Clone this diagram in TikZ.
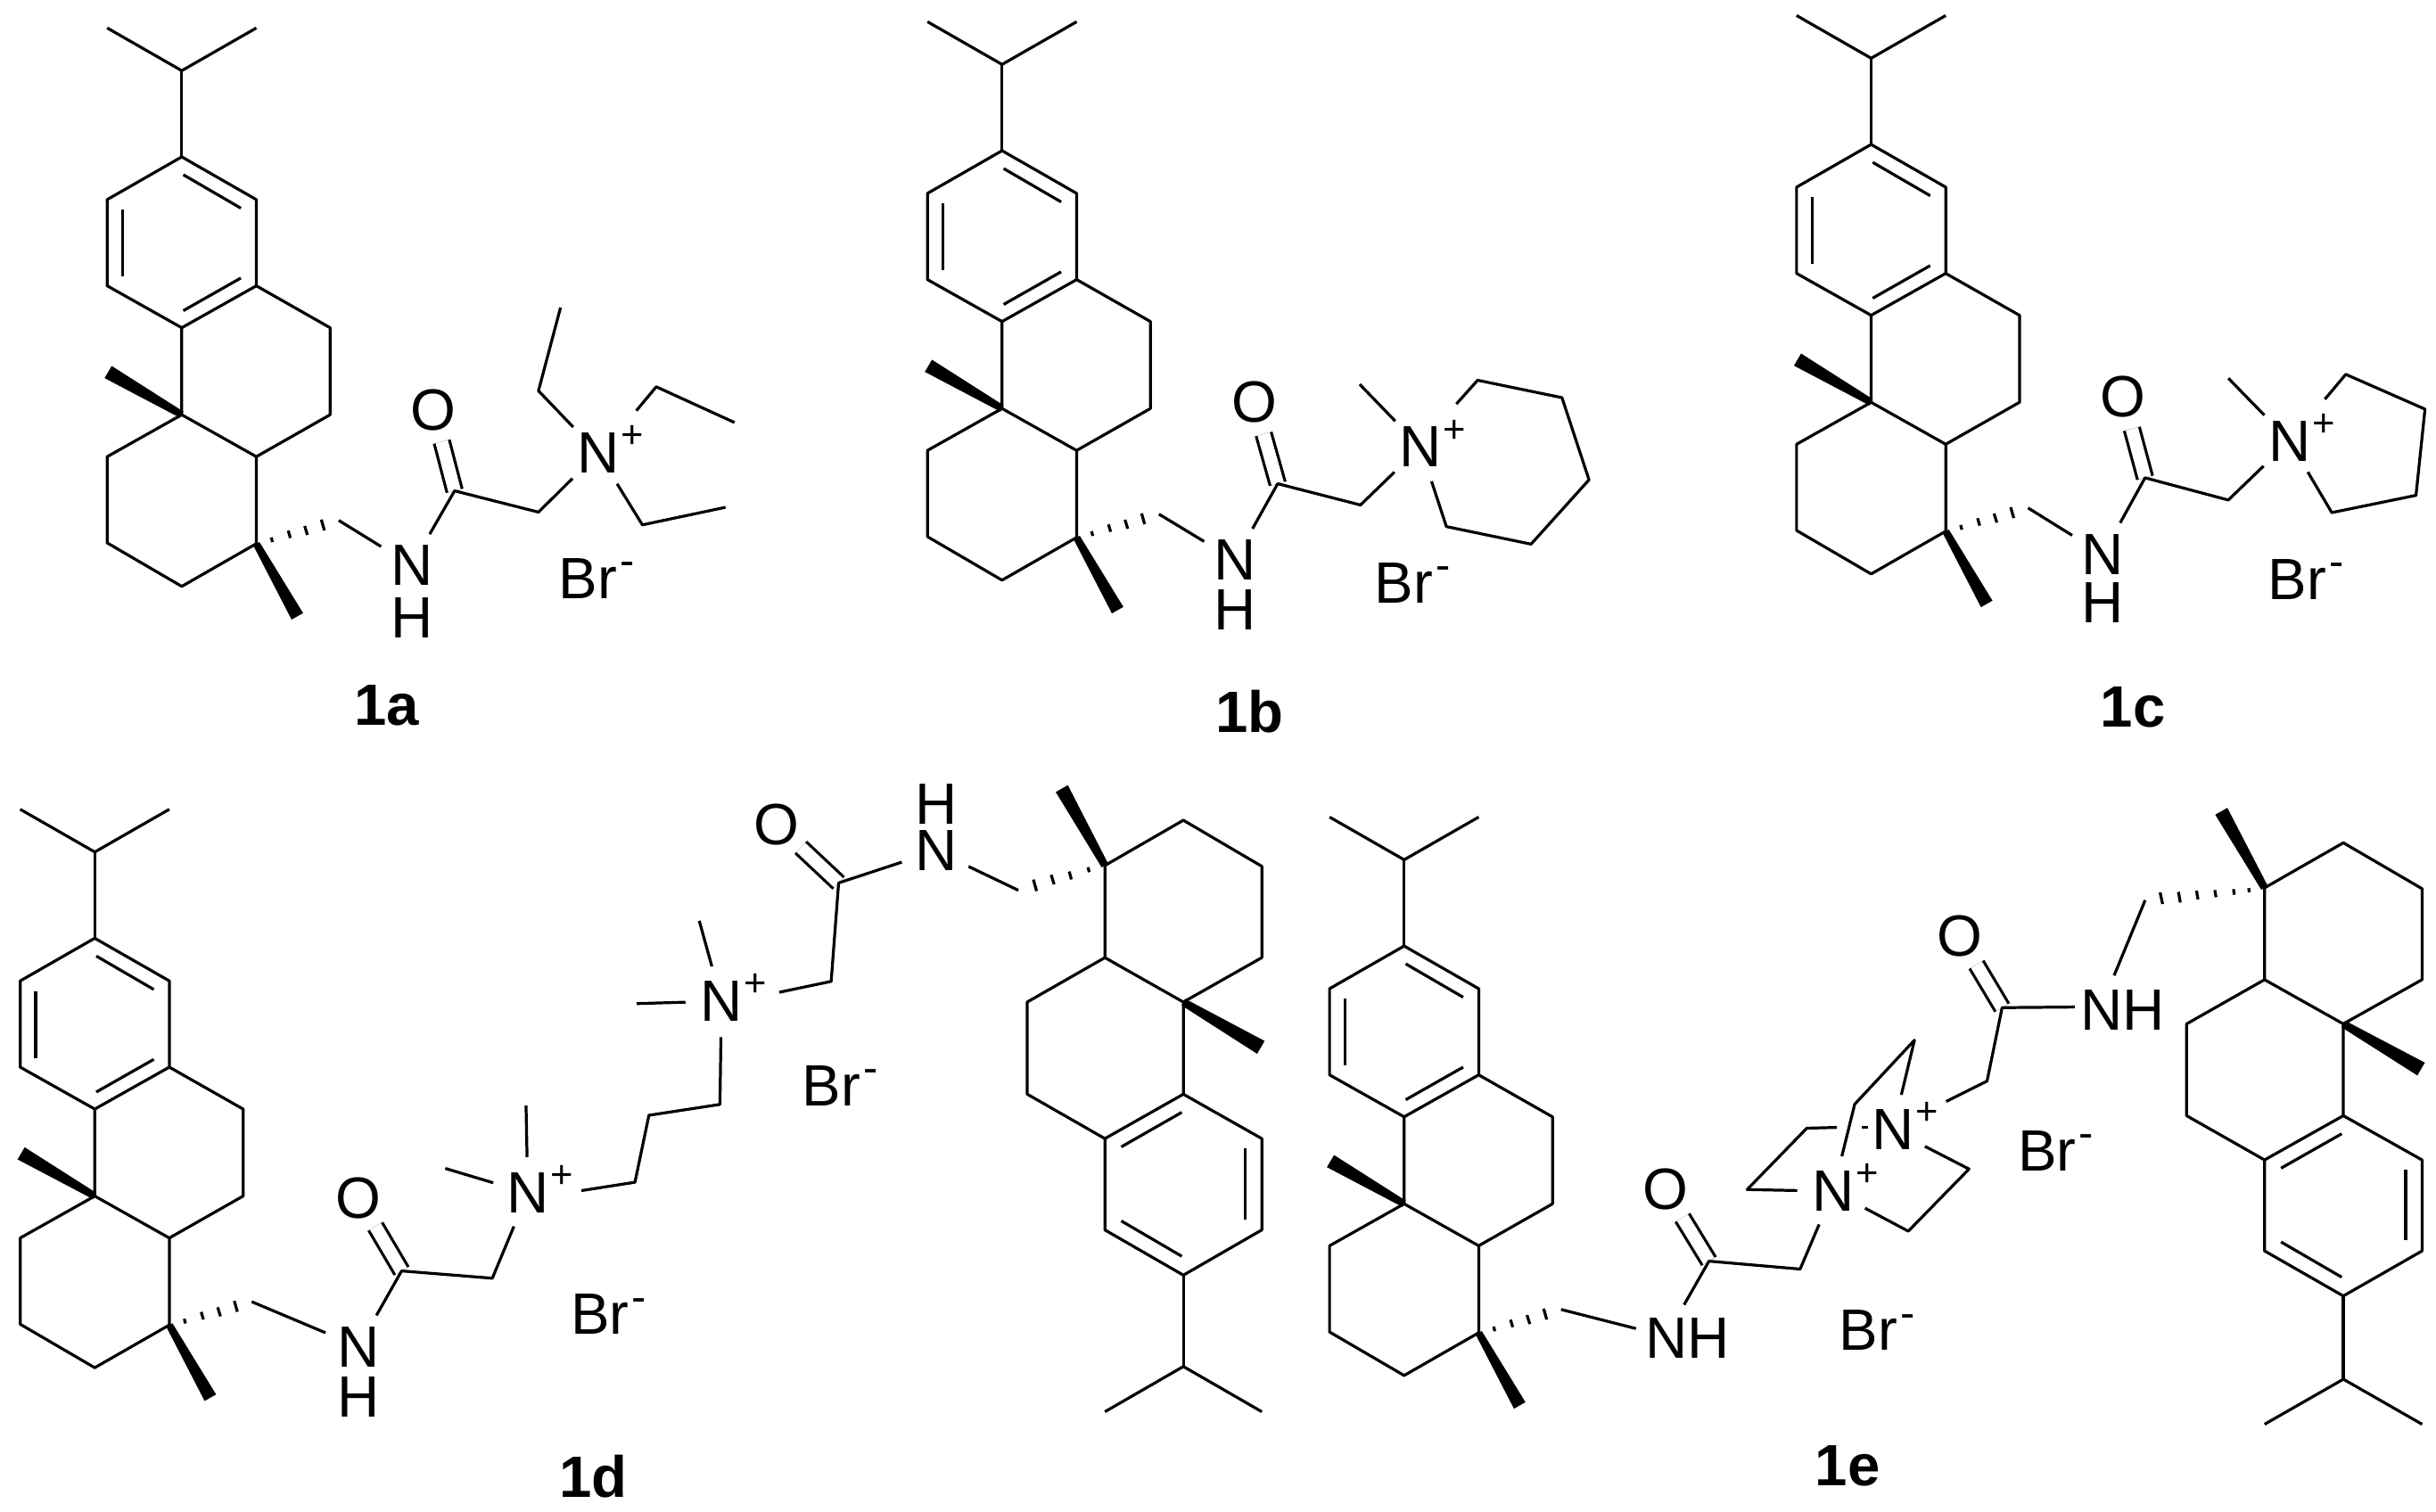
\documentclass[tikz,border=0pt]{standalone}
\usepackage{fontspec}
\setmainfont{Liberation Sans}
\newcommand\Np{N\rlap{\smash{\kern1pt\raisebox{16pt}{\fontsize{25}{25}\selectfont +}}}}
\newcommand\Brm{Br\smash{\kern2pt\raisebox{14.6pt}{\fontsize{28}{28}\selectfont -}}}
\tikzset{
  bond/.style={line width=1.85pt,line join=round,black},
  dbl/.style={line width=1.85pt,double,double distance=8.15pt},
  atom/.style={circle,inner sep=0pt,minimum size=46pt,font=\fontsize{37.5}{40}\selectfont},
  oxy/.style={circle,inner sep=0pt,minimum size=42pt,font=\fontsize{37.5}{40}\selectfont},
  txt/.style={inner sep=0pt,font=\fontsize{37.5}{40}\selectfont},
  brom/.style={inner sep=0pt,anchor=base west,font=\fontsize{37.5}{40}\selectfont},
  lab/.style={inner sep=0pt,font=\fontsize{37.5}{40}\selectfont\bfseries},
}
% #1 core transform, #2 isopropyl transform, #3 prefix
\newcommand\skel[3]{%
  \begin{scope}[#2]
    \coordinate (#3m1) at (69,18); \coordinate (#3m2) at (165,18); \coordinate (#3ch) at (117,45.5);
  \end{scope}
  \begin{scope}[#1]
    \coordinate (#3a1) at (117,101); \coordinate (#3a2) at (165,128.5); \coordinate (#3a3) at (165,184);
    \coordinate (#3a4) at (117,211); \coordinate (#3a5) at (69,184); \coordinate (#3a6) at (69,128.5);
    \coordinate (#3b1) at (212.5,211); \coordinate (#3b2) at (212.5,267); \coordinate (#3c10) at (165,294);
    \coordinate (#3c9) at (117,267); \coordinate (#3d1) at (69,294); \coordinate (#3d2) at (69,349.5);
    \coordinate (#3d3) at (117,377.5); \coordinate (#3c4) at (165,350);
    \draw[bond] (#3a1) -- (#3a2) -- (#3a3) -- (#3a4) -- (#3a5) -- (#3a6) -- cycle;
    \draw[bond] (118,112.5) -- (155,134);
    \draw[bond] (79,135) -- (79,178);
    \draw[bond] (118,200) -- (155,179);
    \draw[bond] (#3a3) -- (#3b1) -- (#3b2) -- (#3c10) -- (#3c9) -- (#3a4);
    \draw[bond] (#3c9) -- (#3d1) -- (#3d2) -- (#3d3) -- (#3c4) -- (#3c10);
    \fill (118.1,265) -- (71.9,235.6) -- (67.3,243.4) -- (115.9,269) -- cycle;
    \fill (167,348.9) -- (195.1,394.7) -- (187.7,398.9) -- (163,351.1) -- cycle;
  \end{scope}
  \draw[bond] (#3m1) -- (#3ch) -- (#3m2);
  \draw[bond] (#3ch) -- (#3a1);
}
\newcommand\stdhash[2]{%
  \begin{scope}[#1]
    \coordinate (#2ch2) at (218,335);
    \draw[bond] (174.6,346) -- (175.4,349);
    \draw[bond] (185.5,341.6) -- (186.9,346.4);
    \draw[bond] (196.1,338.6) -- (197.9,344.4);
    \draw[bond] (206.8,334.5) -- (208.8,341.5);
  \end{scope}
}
\begin{document}
\begin{tikzpicture}[x=1pt,y=-1pt]
\useasboundingbox (0,0) rectangle (1568,973.4);
\fill[white] (0,0) rectangle (1568,973.4);

% ---------- 1a
\skel{}{}{a}\stdhash{}{a}
\node[atom] (aN) at (265,364) {N};
\node[txt] (aH) at (265,397.5) {H};
\node[oxy] (aO) at (279,263.8) {O};
\node[atom] (aQ) at (385,291.7) {\Np};
\coordinate (aC) at (292.6,316);
\coordinate (aM) at (346.6,329.7);
\coordinate (aE1) at (346.6,251.6); \coordinate (aE1b) at (360.8,198);
\coordinate (aE2s) at (409.6,264.4); \coordinate (aE2) at (422.4,249); \coordinate (aE2b) at (472.8,272);
\coordinate (aE3) at (413.5,337.9); \coordinate (aE3b) at (467,326.6);
\draw[dbl] (aO) -- (aC);
\draw[bond] (ach2) -- (aN);
\draw[bond] (aN) -- (aC) -- (aM) -- (aQ);
\draw[bond] (aQ) -- (aE1) -- (aE1b);
\draw[bond] (aE2s) -- (aE2) -- (aE2b);
\draw[bond] (aQ) -- (aE3) -- (aE3b);
\node[brom] (aBr) at (359.6,385.3) {\Brm};
\node[lab] (aL) at (248.8,454) {1a};

% ---------- 1b
\skel{shift={(528,-4)}}{shift={(528,-4)}}{b}\stdhash{shift={(528,-4)}}{b}
\node[atom] (bN) at (794.9,360.6) {N};
\node[txt] (bH) at (794.9,392.4) {H};
\node[oxy] (bO) at (807.6,259) {O};
\node[atom] (bQ) at (914.2,287.8) {\Np};
\coordinate (bC) at (822.4,311.4);
\coordinate (bM) at (875.7,325.1);
\coordinate (bMe) at (875.2,247.4);
\coordinate (bs) at (937.4,260.1);
\coordinate (br1) at (951.1,244.8); \coordinate (br2) at (1005.4,256); \coordinate (br3) at (1022.8,308.9);
\coordinate (br4) at (985.5,350.3); \coordinate (br5) at (931,339);
\draw[dbl] (bO) -- (bC);
\draw[bond] (bch2) -- (bN);
\draw[bond] (bN) -- (bC) -- (bM) -- (bQ);
\draw[bond] (bQ) -- (bMe);
\draw[bond] (bs) -- (br1) -- (br2) -- (br3) -- (br4) -- (br5) -- (bQ);
\node[brom] (bBr) at (884.7,388.2) {\Brm};
\node[lab] (bL) at (804.5,458) {1b};

% ---------- 1c
\skel{shift={(1087.4,-8)}}{shift={(1087.4,-8)}}{c}\stdhash{shift={(1087.4,-8)}}{c}
\node[atom] (cN) at (1353.5,356.9) {N};
\node[txt] (cH) at (1353.5,388.1) {H};
\node[oxy] (cO) at (1366.7,255.6) {O};
\node[atom] (cQ) at (1473.7,283.9) {\Np};
\coordinate (cC) at (1380.7,307.6);
\coordinate (cM) at (1434.3,321.9);
\coordinate (cMe) at (1434.3,243.5);
\coordinate (cs) at (1496.5,257);
\coordinate (cr1) at (1509.9,241); \coordinate (cr2) at (1560.9,263.4);
\coordinate (cr3) at (1555.1,318.9); \coordinate (cr4) at (1500.9,330);
\draw[dbl] (cO) -- (cC);
\draw[bond] (cch2) -- (cN);
\draw[bond] (cN) -- (cC) -- (cM) -- (cQ);
\draw[bond] (cQ) -- (cMe);
\draw[bond] (cs) -- (cr1) -- (cr2) -- (cr3) -- (cr4) -- (cQ);
\node[brom] (cBr) at (1459.8,385.8) {\Brm};
\node[lab] (cL) at (1373,455.3) {1c};

% ---------- 1d
\skel{shift={(-56,503)}}{shift={(-56,503)}}{d}\stdhash{shift={(-56,503)}}{d}
\skel{shift={(884.8,927.9)},xscale=-1.052,yscale=-1.059}{shift={(884.8,927.9)},xscale=-1.052,yscale=-1.059}{e}
\stdhash{shift={(884.8,927.9)},xscale=-1.052,yscale=-1.059}{e}
\node[atom] (dN) at (230.9,867) {N};
\node[txt] (dH) at (230.9,899.6) {H};
\node[oxy] (dO) at (230.9,771.3) {O};
\node[atom] (dQ) at (339.7,768.1) {\Np};
\coordinate (dC) at (258.5,818.2);
\coordinate (dM) at (316.9,822.9);
\coordinate (dMe1) at (338.6,711.7);
\coordinate (dMe2) at (286.6,752.2);
\coordinate (ds) at (374.2,766.5);
\coordinate (dp1) at (408.7,761.1); \coordinate (dp2) at (417.7,718); \coordinate (dp3) at (463.4,711);
\node[atom] (eQ) at (464.4,644.5) {\Np};
\coordinate (eMe1) at (450.1,592.8);
\coordinate (eMe2) at (409.8,646.1);
\coordinate (es) at (501.6,638.8);
\coordinate (eM) at (535,631.8);
\coordinate (eC) at (539.8,568.4);
\node[oxy] (eO) at (500,531) {O};
\node[atom] (eN) at (602.5,547.8) {N};
\node[txt] (eH) at (602.5,517.7) {H};
\draw[dbl] (dO) -- (dC);
\draw[dbl] (eO) -- (eC);
\draw[bond] (dch2) -- (dN);
\draw[bond] (dN) -- (dC) -- (dM) -- (dQ);
\draw[bond] (dQ) -- (dMe1);
\draw[bond] (dQ) -- (dMe2);
\draw[bond] (ds) -- (dp1) -- (dp2) -- (dp3) -- (eQ);
\draw[bond] (eQ) -- (eMe1);
\draw[bond] (eQ) -- (eMe2);
\draw[bond] (es) -- (eM) -- (eC) -- (eN) -- (ech2);
\node[brom] (dBr1) at (516.2,711.7) {\Brm};
\node[brom] (dBr2) at (367.2,859) {\Brm};
\node[lab] (dL) at (382,950.4) {1d};

% ---------- 1e
\skel{shift={(786.8,508)}}{shift={(786.8,508)}}{f}\stdhash{shift={(786.8,508)}}{f}
\skel{shift={(1631.9,940.9)},xscale=-1.056,yscale=-1.055}{shift={(1631.9,935.9)},xscale=-1.056,yscale=-1.055}{g}
\coordinate (gch2) at (1380.8,579.5);
\draw[bond] (1390.4,574.5) -- (1392,582);
\draw[bond] (1402.2,574.2) -- (1403.4,581);
\draw[bond] (1413.8,573.4) -- (1414.8,579);
\draw[bond] (1425.6,573) -- (1426.4,577.6);
\draw[bond] (1437.6,572.4) -- (1438.2,576);
\draw[bond] (1447.4,571.8) -- (1447.8,574.4);
\node[txt] (fNH) at (1086,861.4) {NH};
\coordinate (fNe) at (1053,855.3);
\coordinate (fNt) at (1084,840);
\coordinate (fC) at (1100,811.9);
\node[oxy] (fO) at (1071.9,765.8) {O};
\coordinate (fM) at (1158.7,817);
\node[atom] (fQ) at (1180,766.9) {\Np};
\node[atom] (gQ) at (1218.4,727.4) {\Np};
% cage
\coordinate (k1) at (1163,726.3); \coordinate (k1e) at (1182.4,725.8);
\coordinate (k1d) at (1198.5,725.6); \coordinate (k1f) at (1202.2,725.6);
\coordinate (k2) at (1124.6,765.8);
\coordinate (k3) at (1232.3,669.6); \coordinate (k4) at (1193.8,710.9);
\coordinate (k5) at (1267.4,752.6); \coordinate (k6) at (1228.3,792.6);
\coordinate (gs) at (1252.7,709.1);
\coordinate (gM) at (1279,696);
\coordinate (gC) at (1288.7,648.7);
\node[oxy] (gO) at (1261.3,602.8) {O};
\node[txt] (gNH) at (1366.3,650) {NH};
\coordinate (gNe) at (1335.5,648.3);
\coordinate (gNt) at (1360.8,628);
\draw[dbl] (fO) -- (fC);
\draw[dbl] (gO) -- (gC);
\draw[bond] (fch2) -- (fNe);
\draw[bond] (fNt) -- (fC) -- (fM) -- (fQ);
\draw[bond] (fQ) -- (k2) -- (k1) -- (k1e);
\draw[bond] (k1d) -- (k1f);
\draw[bond] (gQ) -- (k3) -- (k4) -- (fQ);
\draw[bond] (gQ) -- (k5) -- (k6) -- (fQ);
\draw[bond] (gs) -- (gM) -- (gC) -- (gNe);
\draw[bond] (gNt) -- (gch2);
\node[brom] (gBr) at (1298.7,753.8) {\Brm};
\node[brom] (fBr) at (1183.8,869.2) {\Brm};
\node[lab] (fL) at (1189.2,944) {1e};
\end{tikzpicture}
\end{document}
